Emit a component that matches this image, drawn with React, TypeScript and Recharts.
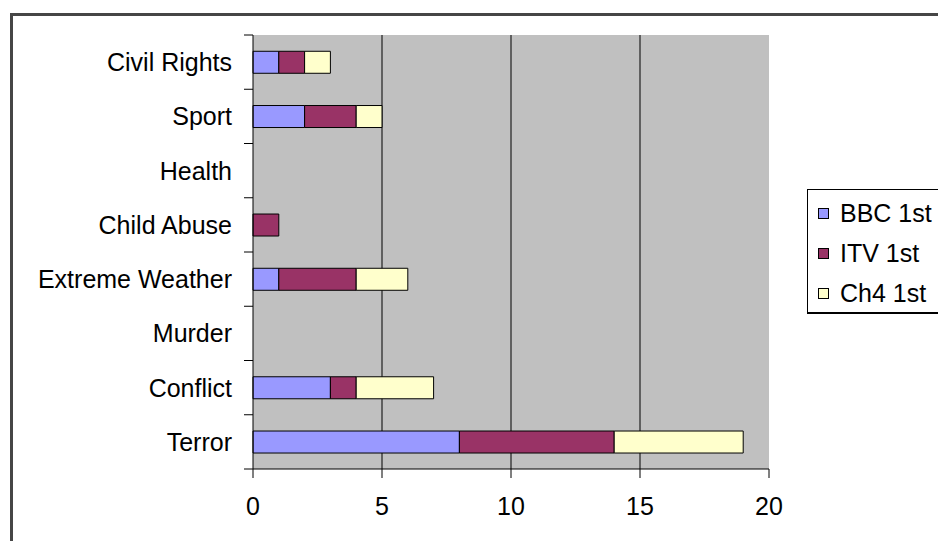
import React from 'react';
import { BarChart, Bar, XAxis, YAxis, CartesianGrid, Legend } from 'recharts';

// Topics, top to bottom
const topics = [
  'Civil Rights',
  'Sport',
  'Health',
  'Child Abuse',
  'Extreme Weather',
  'Murder',
  'Conflict',
  'Terror',
];

// Number of times each channel led with the topic
const bbcFirst = [1, 2, 0, 0, 1, 0, 3, 8];
const itvFirst = [1, 2, 0, 1, 3, 0, 1, 6];
const ch4First = [1, 1, 0, 0, 2, 0, 3, 5];

const xTicks = [0, 5, 10, 15, 20];
const gridValues = [5, 10, 15];

const series = [
  { key: 'bbc', name: 'BBC 1st', color: '#9999FF' },
  { key: 'itv', name: 'ITV 1st', color: '#993366' },
  { key: 'ch4', name: 'Ch4 1st', color: '#FFFFCC' },
];

const data = topics.map((topic, i) => ({
  topic,
  bbc: bbcFirst[i],
  itv: itvFirst[i],
  ch4: ch4First[i],
}));

const W = 938;
const H = 541;
const MARGIN = { top: 35, right: 169, bottom: 0, left: 0 };
const Y_AXIS_W = 253;
const X_AXIS_H = 72;
const TICK = 9;
const TICK_GAP = 12;
const FONT = '"Liberation Sans", Arial, sans-serif';
const FONT_SIZE = 25;

const plotHeight = H - MARGIN.top - X_AXIS_H;
const band = plotHeight / topics.length;

// Category label at the band centre, tick marks on the band boundaries (Excel style)
const CategoryTick = (props: any) => {
  const { x, y, payload, index } = props;
  const axisX = x + TICK + TICK_GAP;
  const last = index === topics.length - 1;
  return (
    <g>
      <line x1={axisX - TICK} x2={axisX} y1={y - band / 2} y2={y - band / 2} stroke="#000" />
      {last && <line x1={axisX - TICK} x2={axisX} y1={y + band / 2} y2={y + band / 2} stroke="#000" />}
      <text
        x={x}
        y={y}
        textAnchor="end"
        dominantBaseline="central"
        fill="#000"
        fontFamily={FONT}
        fontSize={FONT_SIZE}
      >
        {payload.value}
      </text>
    </g>
  );
};

// Legend frame runs off the right edge, so no right border
const LegendBox = () => (
  <div
    style={{
      width: 131,
      height: 125,
      boxSizing: 'border-box',
      borderTop: '1px solid #000',
      borderLeft: '1px solid #000',
      borderBottom: '2px solid #000',
      background: '#fff',
      paddingTop: 3,
      fontFamily: FONT,
      fontSize: FONT_SIZE,
      color: '#000',
      whiteSpace: 'nowrap',
      overflow: 'hidden',
    }}
  >
    {series.map((s) => (
      <div key={s.key} style={{ display: 'flex', alignItems: 'center', height: 40, paddingLeft: 10 }}>
        <span
          style={{
            display: 'inline-block',
            flex: 'none',
            width: 11,
            height: 11,
            boxSizing: 'border-box',
            border: '1px solid #000',
            background: s.color,
          }}
        />
        <span style={{ marginLeft: 11, lineHeight: 1 }}>{s.name}</span>
      </div>
    ))}
  </div>
);

export default function App() {
  return (
    <div
      style={{
        position: 'fixed',
        left: 0,
        top: 0,
        width: W,
        height: H,
        overflow: 'hidden',
        background: '#fff',
        fontFamily: FONT,
      }}
    >
      <div
        style={{
          position: 'absolute',
          left: 10,
          top: 13,
          width: W - 10,
          height: H - 13,
          boxSizing: 'border-box',
          borderTop: '3px solid #464646',
          borderLeft: '3px solid #464646',
        }}
      />
      <BarChart width={W} height={H} data={data} layout="vertical" margin={MARGIN} barCategoryGap="30%">
        <CartesianGrid
          horizontal={false}
          vertical
          verticalValues={gridValues}
          stroke="#000"
          fill="#C0C0C0"
          fillOpacity={1}
        />
        <XAxis
          type="number"
          domain={[0, 20]}
          ticks={xTicks}
          height={X_AXIS_H}
          tickSize={TICK}
          tickMargin={19}
          axisLine={{ stroke: '#000' }}
          tickLine={{ stroke: '#000' }}
          tick={{ fill: '#000', fontSize: FONT_SIZE, fontFamily: FONT }}
        />
        <XAxis
          xAxisId="top"
          orientation="top"
          type="number"
          domain={[0, 20]}
          height={0}
          tick={false}
          tickLine={false}
          axisLine={{ stroke: '#808080', strokeWidth: 2 }}
        />
        <YAxis
          type="category"
          dataKey="topic"
          width={Y_AXIS_W}
          tickSize={TICK}
          tickMargin={TICK_GAP}
          tickLine={false}
          axisLine={{ stroke: '#000' }}
          tick={<CategoryTick />}
          interval={0}
        />
        <YAxis
          yAxisId="right"
          orientation="right"
          type="category"
          dataKey="topic"
          width={0}
          tick={false}
          tickLine={false}
          axisLine={{ stroke: '#808080', strokeWidth: 2 }}
        />
        <Legend
          layout="vertical"
          align="center"
          verticalAlign="middle"
          content={<LegendBox />}
          wrapperStyle={{ left: 807, top: 189, width: 131 }}
        />
        {series.map((s) => (
          <Bar
            key={s.key}
            dataKey={s.key}
            name={s.name}
            stackId="a"
            fill={s.color}
            stroke="#000"
            strokeWidth={1}
            isAnimationActive={false}
          />
        ))}
      </BarChart>
    </div>
  );
}
